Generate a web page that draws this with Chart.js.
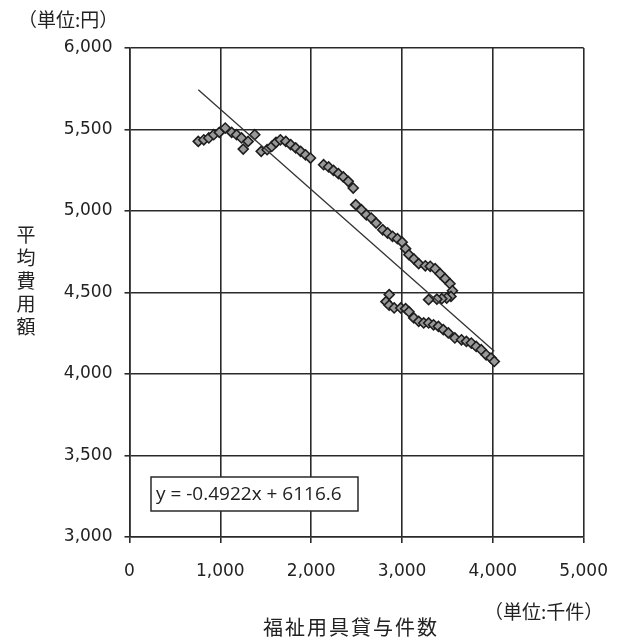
<!DOCTYPE html>
<html>
<head>
<meta charset="utf-8">
<script src="https://cdn.jsdelivr.net/npm/chart.js@4"></script>
<style>
  body { margin: 0; background: #fff; }
  canvas { display: block; }
</style>
</head>
<body>
<canvas id="chart" width="626" height="641"></canvas>
<script>
// 福祉用具貸与件数（千件）
var kensu = [757, 818, 873, 927, 989, 1054, 1125, 1179, 1233, 1306, 1252, 1379,
    1450, 1515, 1566, 1613, 1661, 1721, 1775, 1830, 1884, 1938, 1992,
    2137, 2192, 2246, 2300, 2354, 2408, 2463, 2491, 2553, 2607, 2661, 2715,
    2788, 2842, 2896, 2950, 3002, 3040, 3076, 3130, 3184, 3257, 3311, 3365,
    3420, 3474, 3528, 3555, 3539, 3492, 3438, 3384, 3293,
    2859, 2824, 2859, 2914, 2986, 3040, 3076, 3130, 3184, 3239, 3293, 3347,
    3401, 3455, 3510, 3582, 3655, 3709, 3763, 3817, 3872, 3926, 3980, 4016];
// 平均費用額（円）
var hiyou = [5427, 5437, 5448, 5468, 5482, 5509, 5482, 5468, 5448, 5427, 5380, 5468,
    5366, 5376, 5396, 5421, 5437, 5427, 5407, 5387, 5366, 5345, 5325,
    5284, 5270, 5249, 5229, 5209, 5182, 5141, 5039, 5008, 4977, 4957, 4926,
    4885, 4865, 4845, 4830, 4809, 4769, 4732, 4706, 4677, 4664, 4661, 4646,
    4615, 4585, 4554, 4511, 4476, 4466, 4462, 4459, 4456,
    4487, 4444, 4422, 4405, 4405, 4401, 4382, 4344, 4323, 4313, 4313, 4302,
    4292, 4272, 4252, 4221, 4210, 4200, 4190, 4169, 4149, 4118, 4098, 4077];

// 近似直線
var slope = -0.4922;
var intercept = 6116.6;
var trendLabel = 'y = -0.4922x + 6116.6';

var xTicks = [0, 1000, 2000, 3000, 4000, 5000];
var yTicks = [3000, 3500, 4000, 4500, 5000, 5500, 6000];

var points = [];
for (var i = 0; i < kensu.length; i++) {
    points.push({ x: kensu[i], y: hiyou[i] });
}
var xMin = Math.min.apply(null, kensu);
var xMax = Math.max.apply(null, kensu);
var trend = [
    { x: xMin, y: slope * xMin + intercept },
    { x: xMax, y: slope * xMax + intercept }
];

var lineColor = '#2a2a2a';
var jpFont = '"Noto Sans CJK JP", sans-serif';

var whiteBg = {
    id: 'whiteBg',
    beforeDraw: function(chart) {
        var c = chart.ctx;
        c.save();
        c.fillStyle = '#fff';
        c.fillRect(0, 0, chart.width, chart.height);
        c.restore();
    }
};

var labels = {
    id: 'labels',
    afterDraw: function(chart) {
        var c = chart.ctx;
        c.save();
        c.fillStyle = '#222';
        c.textBaseline = 'middle';

        // 単位
        c.font = '19px ' + jpFont;
        c.textAlign = 'left';
        c.fillText('（単位:円）', 18, 20);
        c.fillText('（単位:千件）', 484, 612);

        // 縦軸タイトル（縦書き）
        c.font = '19px ' + jpFont;
        c.textAlign = 'center';
        var yTitle = '平均費用額';
        for (var k = 0; k < yTitle.length; k++) {
            c.fillText(yTitle[k], 26, 235 + k * 23);
        }

        // 横軸タイトル
        c.font = '20px ' + jpFont;
        c.letterSpacing = '2px';
        c.fillText('福祉用具貸与件数', 351, 627);
        c.letterSpacing = '0px';

        // 近似式ラベル
        var bx = 151, by = 477, bw = 207, bh = 34;
        c.fillStyle = '#fff';
        c.fillRect(bx, by, bw, bh);
        c.strokeStyle = lineColor;
        c.lineWidth = 1.5;
        c.strokeRect(bx, by, bw, bh);
        c.fillStyle = '#222';
        c.font = '19px "Open Sans", sans-serif';
        c.textAlign = 'left';
        c.fillText(trendLabel, bx + 5, by + bh / 2 + 1);
        c.restore();
    }
};

var ctx = document.getElementById('chart').getContext('2d');
var myChart = new Chart(ctx, {
    type: 'scatter',
    data: {
        datasets: [{
            label: '近似直線',
            type: 'line',
            data: trend,
            showLine: true,
            borderColor: '#333',
            borderWidth: 1.3,
            pointRadius: 0,
            fill: false
        }, {
            label: '平均費用額',
            data: points,
            pointStyle: 'rectRot',
            pointRadius: 5,
            backgroundColor: '#999',
            borderColor: '#1e1e1e',
            borderWidth: 1.6
        }]
    },
    options: {
        responsive: false,
        animation: false,
        devicePixelRatio: 1,
        layout: { padding: { left: 0, right: 37, top: 48, bottom: 0 } },
        plugins: {
            legend: { display: false },
            tooltip: { enabled: false }
        },
        scales: {
            x: {
                type: 'linear',
                min: 0,
                max: 5000,
                afterBuildTicks: function(scale) {
                    scale.ticks = xTicks.map(function(v) { return { value: v }; });
                },
                afterFit: function(scale) { scale.height = 641 - 537; },
                grid: { color: lineColor, lineWidth: 1.6, tickLength: 6 },
                border: { color: lineColor, width: 1.6 },
                ticks: {
                    padding: 18,
                    color: '#222',
                    font: { family: 'DejaVu Sans', size: 17 },
                    callback: function(v) { return v.toLocaleString('en-US'); }
                }
            },
            y: {
                type: 'linear',
                min: 3000,
                max: 6000,
                afterBuildTicks: function(scale) {
                    scale.ticks = yTicks.map(function(v) { return { value: v }; });
                },
                afterFit: function(scale) { scale.width = 129.5; },
                grid: { color: lineColor, lineWidth: 1.6, tickLength: 5 },
                border: { color: lineColor, width: 1.6 },
                ticks: {
                    padding: 12,
                    color: '#222',
                    font: { family: 'DejaVu Sans', size: 17 },
                    callback: function(v) { return v.toLocaleString('en-US'); }
                }
            }
        }
    },
    plugins: [whiteBg, labels]
});
</script>
</body>
</html>
